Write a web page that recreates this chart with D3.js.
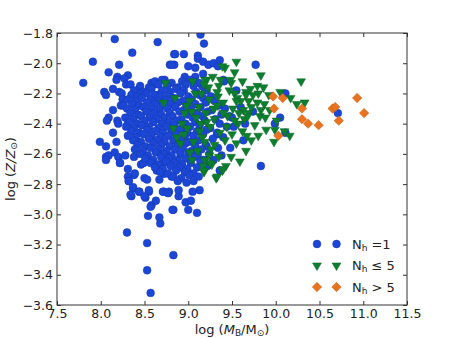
<!DOCTYPE html>
<html>
<head>
<meta charset="utf-8">
<script src="https://d3js.org/d3.v7.min.js"></script>
<style>
  body { margin: 0; background: #fff; }
  text { font-family: "DejaVu Sans", sans-serif; }
</style>
</head>
<body>
<svg id="chart"></svg>
<script>
// Axis ticks
const xTicks = [7.5, 8.0, 8.5, 9.0, 9.5, 10.0, 10.5, 11.0, 11.5];
const yTicks = [-3.6, -3.4, -3.2, -3.0, -2.8, -2.6, -2.4, -2.2, -2.0, -1.8];

// Nh = 1 (log M_B, log Z)
const singleHalo = [
  // sparse outliers
  [8.16,-1.84],[8.65,-1.86],[8.36,-1.93],[7.91,-1.99],[8.21,-2.01],[7.80,-2.13],[8.09,-2.06],
  [8.19,-2.09],[8.18,-2.11],[8.31,-2.08],[8.27,-2.10],[8.29,-2.14],[8.34,-2.14],[8.14,-2.17],
  [8.04,-2.19],[8.06,-2.21],[8.21,-2.19],[8.24,-2.20],[8.44,-2.17],[8.58,-2.13],[8.60,-2.14],
  [8.65,-2.21],[8.73,-2.11],[8.79,-2.01],[8.84,-2.01],[8.84,-1.94],[8.25,-2.24],[8.23,-2.28],
  [8.26,-2.28],[8.14,-2.31],[8.09,-2.36],[8.07,-2.38],[8.19,-2.38],[8.20,-2.40],[8.31,-2.40],
  [9.14,-1.81],[9.18,-1.87],[8.85,-1.94],[8.95,-1.94],[9.11,-1.95],[9.11,-1.97],[9.17,-1.99],
  [9.23,-2.01],[9.29,-2.00],[9.36,-1.98],[9.34,-2.02],[8.81,-2.01],[9.00,-2.02],[9.08,-2.03],
  [9.77,-2.01],[9.40,-2.11],[8.96,-2.09],[9.08,-2.09],[9.17,-2.07],[9.16,-2.15],
  [7.99,-2.52],[8.06,-2.55],[8.06,-2.62],[8.09,-2.61],[8.18,-2.52],[8.14,-2.46],[8.16,-2.59],
  [8.20,-2.62],[8.22,-2.66],[8.28,-2.61],[8.31,-2.70],[8.31,-2.75],[8.32,-2.78],[8.37,-2.83],
  [8.35,-2.88],[8.38,-2.74],[8.38,-2.62],[8.44,-2.85],[8.46,-2.67],[8.49,-2.66],[8.50,-2.76],
  [8.51,-2.89],[8.53,-2.77],[8.55,-2.85],[8.58,-2.94],[8.63,-2.91],[8.67,-2.77],[8.72,-2.66],
  [8.72,-2.85],[8.78,-2.85],[8.83,-2.97],[8.73,-2.73],[8.81,-2.75],[8.64,-2.71],
  [8.54,-3.01],[8.68,-3.06],[8.67,-3.02],[8.82,-2.97],[8.30,-3.12],[8.53,-3.19],[8.83,-3.27],
  [8.53,-3.37],[8.57,-3.52],[9.00,-2.97],[9.10,-2.99],[8.97,-2.92],[9.03,-2.91],[8.57,-2.95],
  [8.50,-2.88],[8.34,-2.87],[8.32,-2.78],[8.39,-2.73],[8.37,-2.82],[8.44,-2.85],[8.55,-2.84],
  [8.71,-2.85],[8.77,-2.86],[8.89,-2.88],[8.89,-2.84],[9.13,-2.84],[9.05,-2.85],[8.72,-2.73],
  [8.22,-2.66],[8.06,-2.64],
  [9.41,-2.12],[9.74,-2.32],[9.63,-2.51],[9.38,-2.61],[9.29,-2.64],[9.52,-2.42],[9.60,-2.29],
  [9.47,-2.35],[9.33,-2.47],[9.55,-2.18],[9.65,-2.40],[9.48,-2.56],[10.11,-2.20],[10.71,-2.33],
  [10.05,-2.36],[10.11,-2.46],[9.99,-2.40],[9.83,-2.68],[9.21,-2.55],[9.36,-2.71],
  // dense core
  [8.62,-2.12],[8.70,-2.11],[8.81,-2.13],[8.93,-2.12],[9.02,-2.11],[9.12,-2.13],
  [8.45,-2.15],[8.55,-2.16],[8.66,-2.14],[8.76,-2.15],[8.88,-2.16],[8.97,-2.14],[9.06,-2.15],[9.18,-2.16],
  [8.38,-2.18],[8.49,-2.19],[8.58,-2.17],[8.70,-2.18],[8.79,-2.19],[8.86,-2.17],[8.95,-2.18],[9.09,-2.19],[9.21,-2.18],
  [8.35,-2.21],[8.42,-2.22],[8.52,-2.20],[8.61,-2.21],[8.68,-2.22],[8.77,-2.21],[8.91,-2.20],[9.00,-2.22],[9.13,-2.21],[9.26,-2.22],
  [8.31,-2.24],[8.40,-2.25],[8.47,-2.23],[8.57,-2.24],[8.65,-2.25],[8.74,-2.24],[8.83,-2.23],[8.94,-2.25],[9.04,-2.24],[9.17,-2.23],[9.30,-2.25],
  [8.36,-2.27],[8.44,-2.28],[8.53,-2.26],[8.62,-2.27],[8.71,-2.28],[8.80,-2.27],[8.88,-2.26],[8.98,-2.28],[9.08,-2.27],[9.20,-2.26],[9.35,-2.28],
  [8.30,-2.30],[8.39,-2.31],[8.49,-2.29],[8.58,-2.30],[8.67,-2.31],[8.76,-2.30],[8.85,-2.29],[8.95,-2.31],[9.03,-2.30],[9.14,-2.29],[9.27,-2.31],[9.42,-2.30],
  [8.34,-2.33],[8.43,-2.34],[8.52,-2.32],[8.61,-2.33],[8.69,-2.34],[8.79,-2.33],[8.90,-2.32],[8.99,-2.34],[9.10,-2.33],[9.22,-2.32],[9.38,-2.34],
  [8.28,-2.36],[8.37,-2.37],[8.46,-2.35],[8.56,-2.36],[8.64,-2.37],[8.73,-2.36],[8.82,-2.35],[8.92,-2.37],[9.05,-2.36],[9.16,-2.35],[9.31,-2.37],[9.50,-2.36],
  [8.33,-2.39],[8.42,-2.40],[8.50,-2.38],[8.60,-2.39],[8.70,-2.40],[8.78,-2.39],[8.87,-2.38],[8.97,-2.40],[9.08,-2.39],[9.19,-2.38],[9.36,-2.40],
  [8.29,-2.42],[8.38,-2.43],[8.47,-2.41],[8.55,-2.42],[8.66,-2.43],[8.75,-2.42],[8.84,-2.41],[8.93,-2.43],[9.02,-2.42],[9.13,-2.41],[9.25,-2.43],[9.44,-2.42],
  [8.35,-2.45],[8.44,-2.46],[8.53,-2.44],[8.62,-2.45],[8.71,-2.46],[8.81,-2.45],[8.90,-2.44],[8.99,-2.46],[9.10,-2.45],[9.21,-2.44],[9.33,-2.46],
  [8.31,-2.48],[8.40,-2.49],[8.49,-2.47],[8.58,-2.48],[8.68,-2.49],[8.77,-2.48],[8.86,-2.47],[8.96,-2.49],[9.06,-2.48],[9.17,-2.47],[9.40,-2.49],
  [8.37,-2.51],[8.46,-2.52],[8.55,-2.50],[8.64,-2.51],[8.73,-2.52],[8.83,-2.51],[8.92,-2.50],[9.02,-2.52],[9.12,-2.51],[9.28,-2.50],
  [8.42,-2.54],[8.51,-2.55],[8.60,-2.53],[8.69,-2.54],[8.79,-2.55],[8.88,-2.54],[8.97,-2.53],[9.08,-2.55],[9.20,-2.54],
  [8.39,-2.57],[8.48,-2.58],[8.57,-2.56],[8.66,-2.57],[8.75,-2.58],[8.85,-2.57],[8.94,-2.56],[9.04,-2.58],[9.15,-2.57],[9.34,-2.56],
  [8.45,-2.60],[8.54,-2.61],[8.63,-2.59],[8.72,-2.60],[8.81,-2.61],[8.91,-2.60],[9.00,-2.59],[9.11,-2.61],[9.24,-2.60],
  [8.51,-2.63],[8.60,-2.64],[8.69,-2.62],[8.78,-2.63],[8.88,-2.64],[8.97,-2.63],[9.07,-2.62],[9.18,-2.64],
  [8.57,-2.66],[8.66,-2.67],[8.75,-2.65],[8.84,-2.66],[8.93,-2.67],[9.03,-2.66],[9.14,-2.65],
  [8.62,-2.69],[8.71,-2.70],[8.80,-2.68],[8.90,-2.69],[8.99,-2.70],[9.10,-2.69],[9.22,-2.68],
  [8.68,-2.72],[8.77,-2.73],[8.86,-2.71],[8.96,-2.72],[9.06,-2.73],
  [8.83,-2.75],[8.92,-2.76],[9.01,-2.74],[9.12,-2.75],
  [8.88,-2.78],[8.98,-2.79],[9.06,-2.78]
];

// Nh <= 5
const fewHalos = [
  [9.55,-1.99],[9.42,-2.03],[9.53,-2.06],[9.83,-2.08],[9.21,-2.11],[9.49,-2.13],[9.79,-2.15],
  [9.86,-2.16],[9.35,-2.15],[9.23,-2.16],[9.66,-2.19],[9.74,-2.21],[9.80,-2.20],[10.05,-2.19],
  [9.53,-2.20],[9.56,-2.23],[9.60,-2.25],[9.69,-2.25],[9.72,-2.29],[9.87,-2.27],[9.93,-2.31],
  [9.82,-2.35],[10.01,-2.38],[9.64,-2.37],[9.69,-2.33],[10.29,-2.12],[10.33,-2.26],[10.24,-2.27],
  [10.17,-2.23],[9.99,-2.44],[9.98,-2.52],[10.16,-2.48],[10.10,-2.45],[9.89,-2.44],[9.80,-2.48],
  [9.72,-2.51],[9.66,-2.58],[9.59,-2.65],[9.55,-2.53],[9.49,-2.62],[9.43,-2.68],[9.39,-2.71],
  [9.32,-2.76],[9.18,-2.72],[9.27,-2.67],[9.19,-2.64],[9.24,-2.61],[9.02,-2.59],[9.67,-2.48],
  [8.74,-2.13],[8.72,-2.26],[8.85,-2.23],[9.04,-2.32],[8.83,-2.43],[8.87,-2.49],[8.91,-2.53],
  [9.19,-2.11],[9.39,-2.02],[9.48,-2.11],[9.34,-2.22],[9.17,-2.68],[9.18,-2.71],[9.33,-2.75],
  [9.40,-2.70],[9.25,-2.66],
  // denser middle
  [9.05,-2.12],[9.28,-2.09],[9.47,-2.18],[9.62,-2.12],[9.15,-2.20],[9.33,-2.19],[9.71,-2.17],
  [9.92,-2.21],[9.02,-2.25],[9.12,-2.29],[9.24,-2.24],[9.40,-2.26],[9.51,-2.30],[9.79,-2.26],
  [9.63,-2.31],[8.96,-2.33],[9.09,-2.36],[9.20,-2.33],[9.30,-2.37],[9.45,-2.35],[9.57,-2.40],
  [9.76,-2.41],[9.88,-2.36],[8.99,-2.43],[9.13,-2.45],[9.25,-2.42],[9.36,-2.46],[9.50,-2.47],
  [9.62,-2.45],[9.06,-2.52],[9.16,-2.49],[9.30,-2.54],[9.42,-2.51],[9.11,-2.58],[9.26,-2.57],
  [9.35,-2.62],[9.04,-2.64],[8.93,-2.40],[8.98,-2.28],[9.18,-2.14],[9.37,-2.11],[9.55,-2.25],
  [9.68,-2.35],[9.83,-2.31],[9.44,-2.42],[9.21,-2.39],[9.08,-2.20],[8.95,-2.47],[9.19,-2.52],
  [9.53,-2.38],[9.66,-2.21],[9.29,-2.30],[9.40,-2.33],[9.14,-2.40],[9.33,-2.28],[9.58,-2.33]
];

// Nh > 5
const manyHalos = [
  [9.97,-2.22],[10.08,-2.23],[9.98,-2.30],[10.03,-2.48],[10.30,-2.30],[10.30,-2.37],[10.37,-2.40],
  [10.49,-2.41],[10.65,-2.30],[10.68,-2.29],[10.72,-2.38],[10.93,-2.23],[11.01,-2.33]
];

const legendLabels = ["=1", "\u2264 5", "> 5"];

const W = 452, H = 339;
const margin = {top: 33, right: 45, bottom: 34, left: 57};
const width = W - margin.left - margin.right;
const height = H - margin.top - margin.bottom;

const svg = d3.select("#chart").attr("width", W).attr("height", H);
svg.append("rect").attr("width", W).attr("height", H).attr("fill", "#fff");

const g = svg.append("g").attr("transform", `translate(${margin.left},${margin.top})`);

const x = d3.scaleLinear().domain([7.5, 11.5]).range([0, width]);
const y = d3.scaleLinear().domain([-3.6, -1.8]).range([height, 0]);

const fmt = d3.format(".1f");
const axisColor = "#333";

// Clip so markers stay inside frame
svg.append("defs").append("clipPath").attr("id", "clip")
  .append("rect").attr("width", width).attr("height", height);

const pts = g.append("g").attr("clip-path", "url(#clip)");

const blue = "#1c47d6", green = "#0c7f2f", orange = "#e8721e";
const circle = d3.symbol().type(d3.symbolCircle).size(48);
const tri = d3.symbol().type(d3.symbolTriangle).size(34);
const diamond = d3.symbol().type(d3.symbolSquare).size(44);

pts.selectAll("path.single").data(singleHalo).join("path")
  .attr("class", "single")
  .attr("d", circle)
  .attr("transform", d => `translate(${x(d[0])},${y(d[1])})`)
  .attr("fill", blue).attr("stroke", "#1538b0").attr("stroke-width", 0.5);

pts.selectAll("path.few").data(fewHalos).join("path")
  .attr("class", "few")
  .attr("d", tri)
  .attr("transform", d => `translate(${x(d[0])},${y(d[1])}) rotate(180)`)
  .attr("fill", green).attr("stroke", "#0a6526").attr("stroke-width", 0.5);

pts.selectAll("path.many").data(manyHalos).join("path")
  .attr("class", "many")
  .attr("d", diamond)
  .attr("transform", d => `translate(${x(d[0])},${y(d[1])}) rotate(45)`)
  .attr("fill", orange).attr("stroke", "#c85c12").attr("stroke-width", 0.5);

// Axes with inward ticks on all sides
function styleAxis(sel) {
  sel.select(".domain").remove();
  sel.selectAll(".tick line").attr("stroke", axisColor);
  sel.selectAll(".tick text").attr("fill", "#222").style("font-size", "12.5px")
    .style("font-family", "DejaVu Sans, sans-serif");
}

g.append("g").attr("transform", `translate(0,${height})`)
  .call(d3.axisBottom(x).tickValues(xTicks).tickFormat(fmt).tickSize(-4).tickPadding(4))
  .call(styleAxis);
g.append("g")
  .call(d3.axisTop(x).tickValues(xTicks).tickFormat("").tickSize(-4))
  .call(styleAxis);
g.append("g")
  .call(d3.axisLeft(y).tickValues(yTicks).tickFormat(fmt).tickSize(-4).tickPadding(4))
  .call(styleAxis);
g.append("g").attr("transform", `translate(${width},0)`)
  .call(d3.axisRight(y).tickValues(yTicks).tickFormat("").tickSize(-4))
  .call(styleAxis);

g.append("rect").attr("width", width).attr("height", height)
  .attr("fill", "none").attr("stroke", axisColor).attr("stroke-width", 1);

// Axis labels
const xl = svg.append("text").attr("x", margin.left + width / 2).attr("y", 334)
  .attr("text-anchor", "middle").style("font-size", "13px").attr("fill", "#222");
xl.append("tspan").text("log (");
xl.append("tspan").attr("font-style", "italic").text("M");
xl.append("tspan").attr("baseline-shift", "-25%").style("font-size", "9px").text("B");
xl.append("tspan").text("/M");
xl.append("tspan").attr("baseline-shift", "-25%").style("font-size", "9px").text("\u2299");
xl.append("tspan").text(")");

const yl = svg.append("text")
  .attr("transform", `translate(15,${margin.top + height / 2}) rotate(-90)`)
  .attr("text-anchor", "middle").style("font-size", "13px").attr("fill", "#222");
yl.append("tspan").text("log (");
yl.append("tspan").attr("font-style", "italic").text("Z/Z");
yl.append("tspan").attr("baseline-shift", "-25%").style("font-size", "9px").text("\u2299");
yl.append("tspan").text(")");

// Legend (two markers per entry, no frame)
const legendRows = [
  {sym: circle, fill: blue, stroke: "#1538b0", rot: 0, label: legendLabels[0]},
  {sym: tri, fill: green, stroke: "#0a6526", rot: 180, label: legendLabels[1]},
  {sym: diamond, fill: orange, stroke: "#c85c12", rot: 45, label: legendLabels[2]}
];
const leg = svg.append("g");
legendRows.forEach((r, i) => {
  const ly = 244 + i * 21.5;
  [317, 336.5].forEach(lx => {
    leg.append("path").attr("d", r.sym)
      .attr("transform", `translate(${lx},${ly}) rotate(${r.rot})`)
      .attr("fill", r.fill).attr("stroke", r.stroke).attr("stroke-width", 0.5);
  });
  const t = leg.append("text").attr("x", 352).attr("y", ly + 4.5)
    .style("font-size", "13px").attr("fill", "#222");
  t.append("tspan").text("N");
  t.append("tspan").attr("baseline-shift", "-25%").style("font-size", "9px").text("h");
  t.append("tspan").attr("dx", 4).text(r.label);
});
</script>
</body>
</html>
